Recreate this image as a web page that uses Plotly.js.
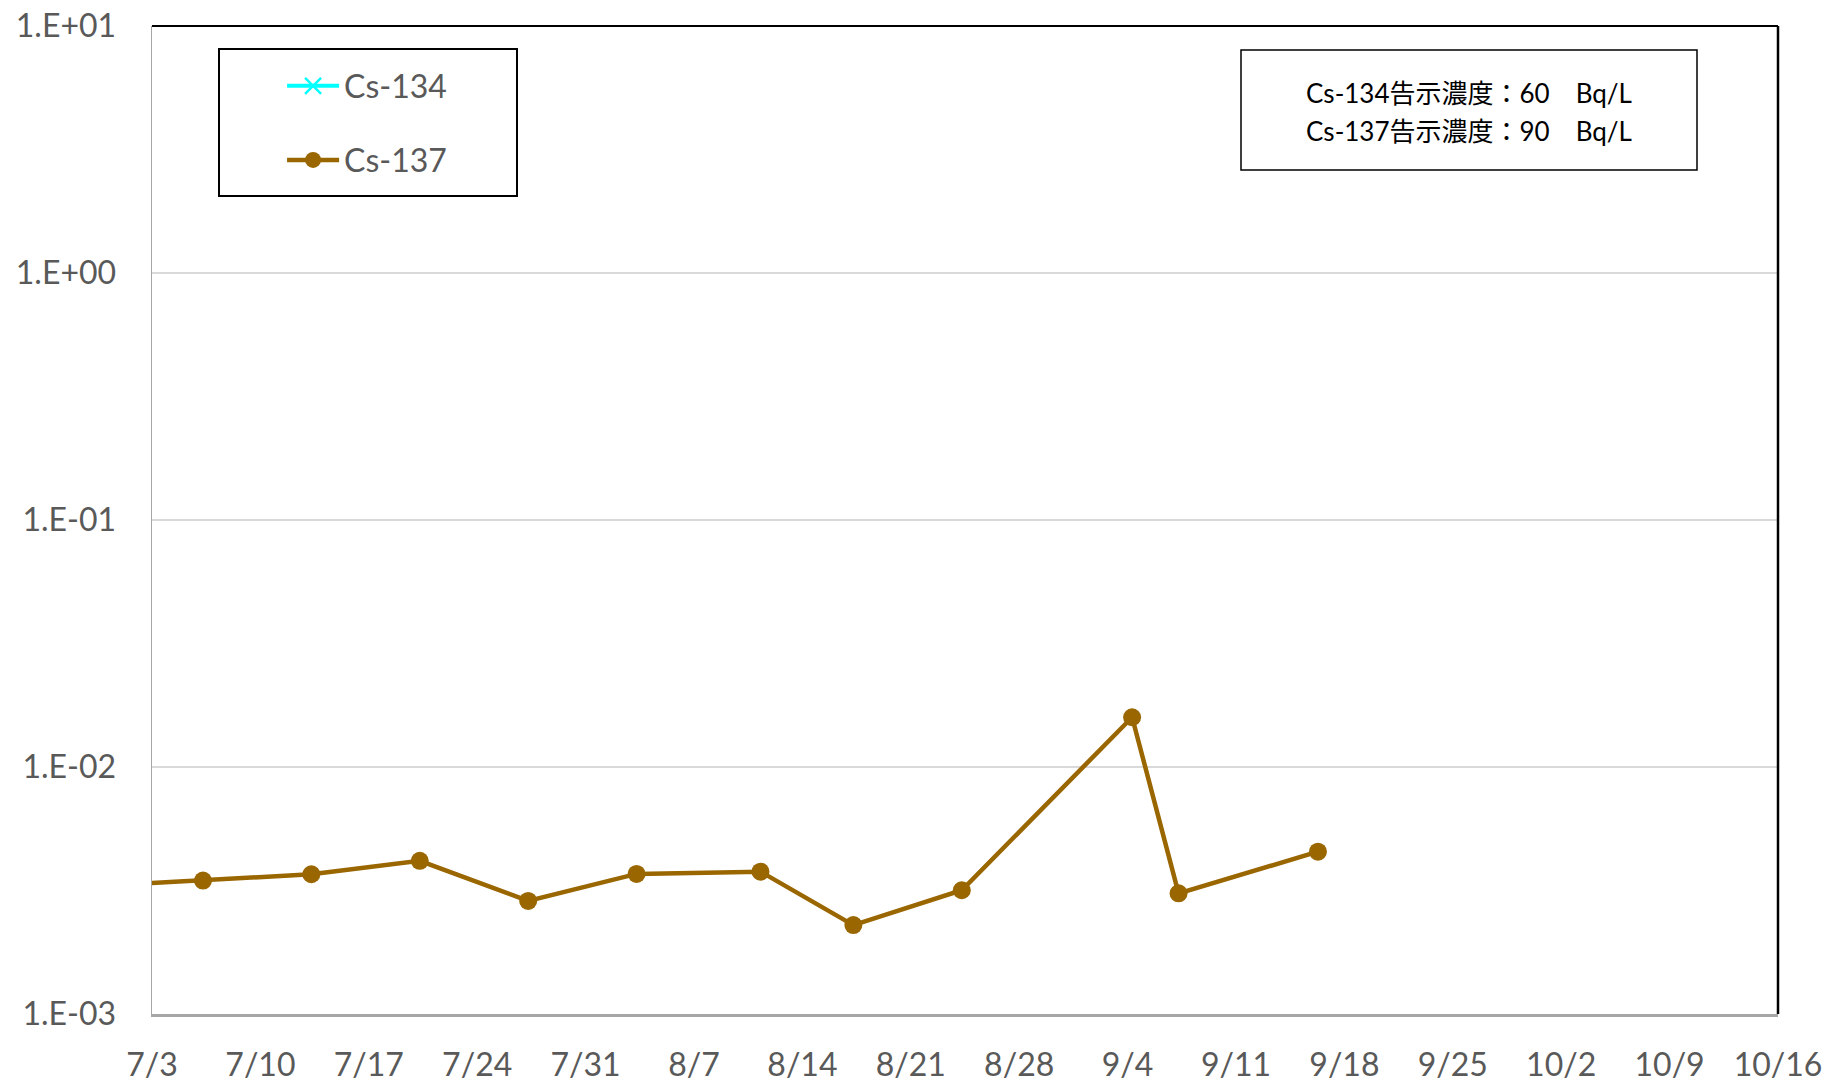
<!DOCTYPE html>
<html>
<head>
<meta charset="utf-8">
<script src="https://cdn.plot.ly/plotly-3.0.1.min.js"></script>
<style>
html,body{margin:0;padding:0;background:#fff;}
#chart{width:1830px;height:1084px;}
</style>
</head>
<body>
<div id="chart"></div>
<script>
// ---- data ----
const dates = ['2023-06-29T07:00','2023-07-06T07:00','2023-07-13T07:00','2023-07-20T07:00','2023-07-27T07:00',
  '2023-08-03T07:00','2023-08-11T07:00','2023-08-17T07:00','2023-08-24T07:00','2023-09-04T07:00',
  '2023-09-07T07:00','2023-09-16T07:00'];
const cs137 = [3.29e-3, 3.47e-3, 3.68e-3, 4.17e-3, 2.87e-3, 3.69e-3, 3.77e-3, 2.29e-3, 3.17e-3, 1.59e-2, 3.08e-3, 4.54e-3];
// Cs-134: not detected (no plotted values)
const cs134 = [null, null, null, null, null, null, null, null, null, null, null, null];
const seriesNames = ['Cs-134', 'Cs-137'];
const xRange = ['2023-07-03', '2023-10-16'];
const yTickVals = [1e-3, 1e-2, 1e-1, 1e0, 1e1];
const yTickText = ['1.E-03', '1.E-02', '1.E-01', '1.E+00', '1.E+01'];
const noteLines = ['Cs-134告示濃度：60　Bq/L', 'Cs-137告示濃度：90　Bq/L'];

const FONT = 'Lato, "Noto Sans CJK JP", sans-serif';
const GREY = '#595959';

const traces = [
  {
    x: dates, y: cs134, name: seriesNames[0], type: 'scatter', mode: 'lines+markers',
    line: {color: '#00FFFF', width: 4},
    marker: {symbol: 'x-thin', size: 16, line: {color: '#00FFFF', width: 2.5}},
    legendgroup: 'a'
  },
  {
    x: dates, y: cs137, name: seriesNames[1], type: 'scatter', mode: 'lines+markers',
    line: {color: '#996600', width: 4.5},
    marker: {symbol: 'circle', size: 18, color: '#996600'},
    legendgroup: 'b', cliponaxis: true
  }
];

const PL = 152, PT = 26, PW = 1626, PH = 988;
const px = v => (v - PL) / PW;
const py = v => (PT + PH - v) / PH;

const layout = {
  width: 1830, height: 1084,
  margin: {l: 152, r: 52, t: 26, b: 70},
  paper_bgcolor: '#ffffff', plot_bgcolor: '#ffffff',
  font: {family: FONT, size: 32, color: GREY},
  showlegend: true,
  legend: {
    x: 0.080, xanchor: 'left', y: py(58.5), yanchor: 'top',
    bgcolor: 'rgba(0,0,0,0)', borderwidth: 0,
    font: {family: FONT, size: 32, color: GREY},
    traceorder: 'grouped', tracegroupgap: 29.5, itemwidth: 52
  },
  xaxis: {
    type: 'date', range: xRange,
    tick0: '2023-07-03', dtick: 7 * 86400000, tickformat: '%-m/%-d',
    showgrid: false, zeroline: false,
    showline: true, linecolor: '#a6a6a6', linewidth: 3,
    ticks: '', ticklabelstandoff: 21,
    tickfont: {family: FONT, size: 32, color: GREY}
  },
  yaxis: {
    type: 'log', range: [-3, 1],
    tickvals: yTickVals, ticktext: yTickText,
    showgrid: true, gridcolor: '#d9d9d9', gridwidth: 2,
    zeroline: false, showline: true, linecolor: '#a6a6a6', linewidth: 1.5,
    ticks: '', ticklabelstandoff: 28,
    tickfont: {family: FONT, size: 32, color: GREY}
  },
  shapes: [
    {type: 'line', xref: 'paper', yref: 'paper', x0: 0, x1: 1, y0: 1, y1: 1, line: {color: '#000', width: 2}},
    {type: 'line', xref: 'paper', yref: 'paper', x0: 1, x1: 1, y0: 0, y1: 1, line: {color: '#000', width: 2.5}},
    // legend frame
    {type: 'rect', xref: 'paper', yref: 'paper',
     x0: px(219), x1: px(517), y0: py(196), y1: py(49),
     line: {color: '#000', width: 2}, fillcolor: 'rgba(0,0,0,0)'},
    // note frame
    {type: 'rect', xref: 'paper', yref: 'paper',
     x0: px(1241), x1: px(1697), y0: py(170), y1: py(50),
     line: {color: '#000', width: 1.5}, fillcolor: '#ffffff'}
  ],
  annotations: noteLines.map((t, i) => ({
    xref: 'paper', yref: 'paper', x: px(1469), y: py(i === 0 ? 93 : 131),
    xanchor: 'center', yanchor: 'middle',
    text: t, showarrow: false,
    font: {family: FONT, size: 26, color: '#000'}
  }))
};

Plotly.newPlot('chart', traces, layout, {displayModeBar: false, staticPlot: true});
</script>
</body>
</html>
